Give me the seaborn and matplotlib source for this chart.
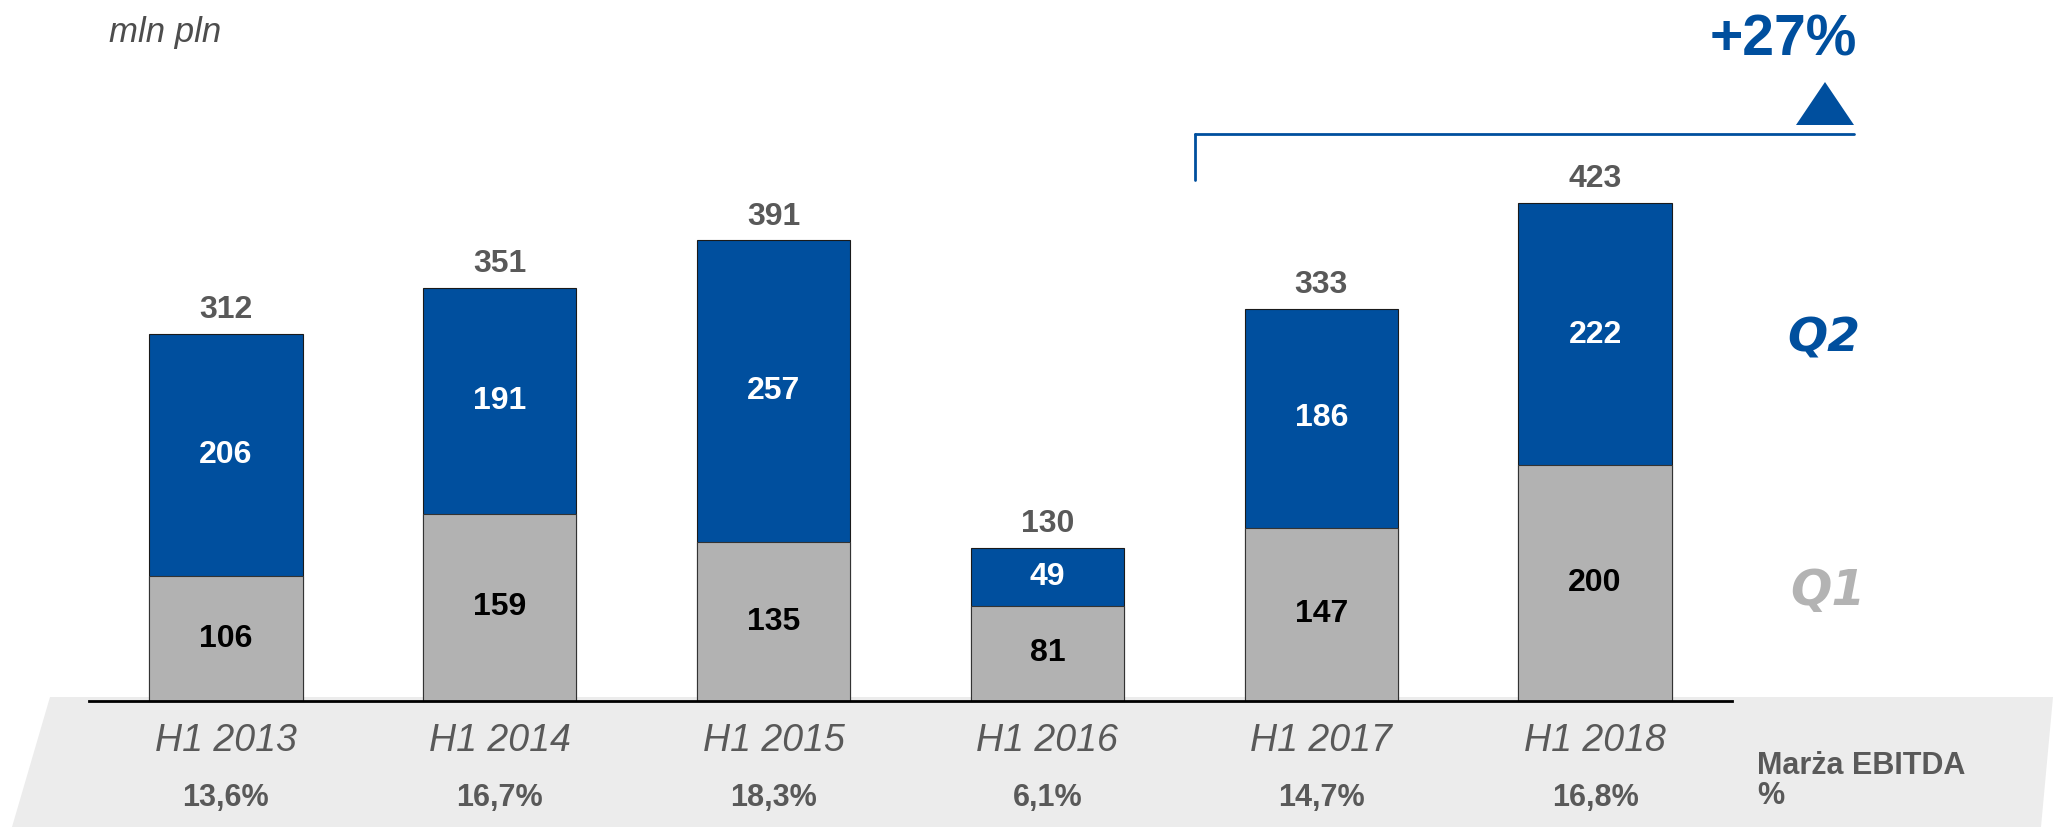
import matplotlib
matplotlib.use("Agg")
import matplotlib.pyplot as plt
from matplotlib.patches import Polygon
from matplotlib.lines import Line2D
import seaborn as sns
import pandas as pd

# dane: EBITDA w mln pln, półrocza
periods = ["H1 2013", "H1 2014", "H1 2015", "H1 2016", "H1 2017", "H1 2018"]
q1 = [106, 159, 135, 81, 147, 200]
q2 = [206, 191, 257, 49, 186, 222]
totals = [312, 351, 391, 130, 333, 423]
margins = ["13,6%", "16,7%", "18,3%", "6,1%", "14,7%", "16,8%"]
growth = "+27%"

BLUE = "#004f9e"
GREY = "#b2b2b2"
TXT = "#595959"

sns.set_theme(style="white")
plt.rcParams["font.family"] = ["Liberation Sans", "DejaVu Sans"]

W, H = 2053, 827
fig = plt.figure(figsize=(W / 100, H / 100), dpi=100)


# piksele (od góry) -> ułamek figury
def fx(x):
    return x / W


def fy(y):
    return 1 - y / H


ax = fig.add_axes([fx(89), fy(701), (1732 - 89) / W, 530 / H])
ax.set_facecolor("none")

df = pd.DataFrame({"okres": periods, "Q1": q1, "Q2": q2, "razem": totals})

# słupki skumulowane: najpierw suma (niebieski), potem Q1 (szary)
sns.barplot(data=df, x="okres", y="razem", color=BLUE, saturation=1, width=0.56,
            edgecolor="#1a1a1a", linewidth=0.8, errorbar=None, ax=ax)
sns.barplot(data=df, x="okres", y="Q1", color=GREY, saturation=1, width=0.56,
            edgecolor="#333333", linewidth=0.8, errorbar=None, ax=ax)

ax.set_xlim(-0.5, 5.5)
ax.set_ylim(0, 450)
ax.set_xlabel("")
ax.set_ylabel("")
ax.set_yticks([])
ax.set_xticks(range(len(periods)))
ax.set_xticklabels(periods, fontsize=27, style="italic", color=TXT)
ax.tick_params(axis="x", length=0, pad=16)
for s in ["top", "right", "left"]:
    ax.spines[s].set_visible(False)
ax.spines["bottom"].set_color("black")
ax.spines["bottom"].set_linewidth(2)
ax.spines["bottom"].set_zorder(5)

# etykiety wartości
for i, (a, b, t) in enumerate(zip(q1, q2, totals)):
    ax.text(i, a / 2, str(a), ha="center", va="center", fontsize=23,
            fontweight="bold", color="black")
    ax.text(i, a + b / 2, str(b), ha="center", va="center", fontsize=23,
            fontweight="bold", color="white")
    ax.text(i, t + 20, str(t), ha="center", va="center", fontsize=23,
            fontweight="bold", color=TXT)

# marża EBITDA pod osią
trans = ax.get_xaxis_transform()
for i, m in enumerate(margins):
    ax.text(i, -97 / 530, m, transform=trans, ha="center", va="center",
            fontsize=22, fontweight="bold", color=TXT, clip_on=False)

# szare tło pod osią
band = Polygon([(fx(50), fy(697)), (fx(2053), fy(697)), (fx(2041), fy(827)), (fx(12), fy(827))],
               closed=True, transform=fig.transFigure, facecolor="#ececec",
               edgecolor="none", zorder=-1)
fig.add_artist(band)

# klamra wzrostu
fig.add_artist(Line2D([fx(1195), fx(1854)], [fy(134), fy(134)], transform=fig.transFigure,
                      color=BLUE, lw=2))
fig.add_artist(Line2D([fx(1195), fx(1195)], [fy(134), fy(180)], transform=fig.transFigure,
                      color=BLUE, lw=2))
fig.add_artist(Polygon([(fx(1796), fy(125)), (fx(1854), fy(125)), (fx(1825), fy(82))],
                       closed=True, transform=fig.transFigure, facecolor=BLUE,
                       edgecolor="none"))
fig.text(fx(1783), fy(56), growth, ha="center", va="baseline", fontsize=41,
         fontweight="bold", color=BLUE)

fig.text(fx(109), fy(42), "mln pln", ha="left", va="baseline", fontsize=25,
         style="italic", color="#4d4d4d")

fig.text(fx(1824), fy(351), "Q2", ha="center", va="baseline", fontsize=34,
         fontweight="bold", style="italic", family="DejaVu Sans", color=BLUE)
fig.text(fx(1828), fy(605), "Q1", ha="center", va="baseline", fontsize=35,
         fontweight="bold", style="italic", family="DejaVu Sans", color="#b3b3b3")

fig.text(fx(1757), fy(774), "Marża EBITDA", ha="left", va="baseline", fontsize=22,
         fontweight="bold", color=TXT)
fig.text(fx(1757), fy(804), "%", ha="left", va="baseline", fontsize=22,
         fontweight="bold", color=TXT)

fig.savefig("out.png", dpi=100)
